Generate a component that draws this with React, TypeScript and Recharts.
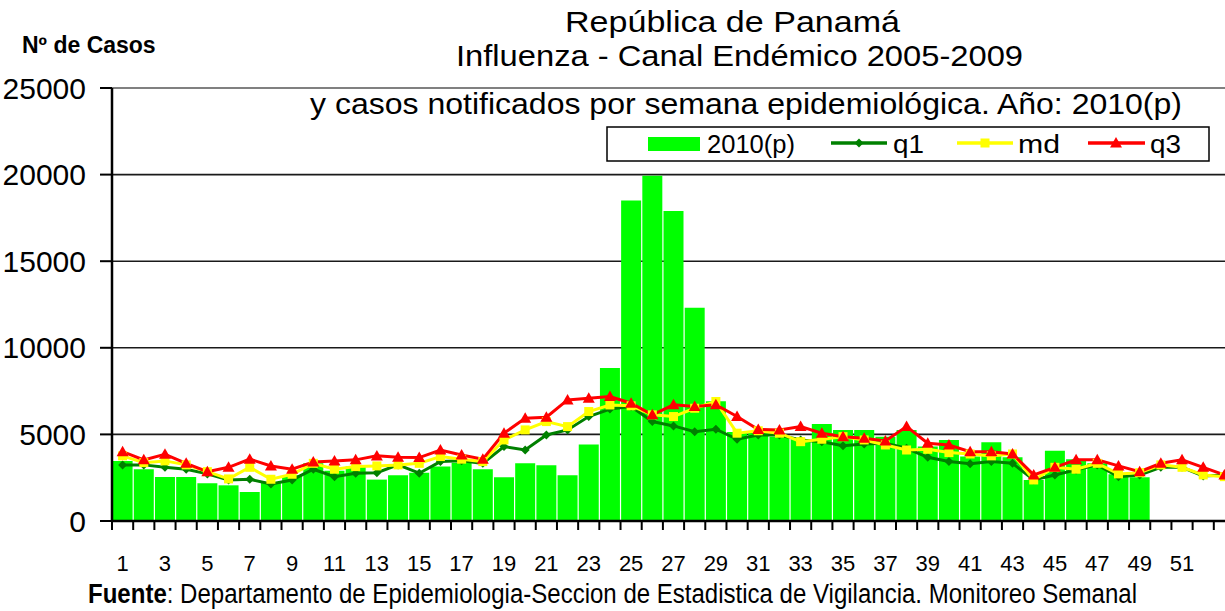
import React from 'react'
import { Bar, CartesianGrid, ComposedChart, Line, ReferenceLine, XAxis, YAxis } from 'recharts'

const WEEKS = [
  1, 2, 3, 4, 5, 6, 7, 8, 9, 10, 11, 12, 13, 14, 15, 16, 17, 18, 19, 20, 21, 22, 23, 24, 25, 26,
  27, 28, 29, 30, 31, 32, 33, 34, 35, 36, 37, 38, 39, 40, 41, 42, 43, 44, 45, 46, 47, 48, 49, 50,
  51, 52, 53,
]

// casos notificados 2010(p), semanas 1-49
const CASES_2010 = [
  3470, 2990, 2540, 2540, 2180, 2060, 1680, 2220, 2640, 3330, 2900, 3140, 2390, 2640, 2790, 3140,
  3370, 2990, 2530, 3330, 3220, 2640, 4410, 8840, 18510, 19940, 17900, 12310, 6920, 5140, 5100,
  4860, 4700, 5600, 5260, 5260, 4870, 5260, 4300, 4680, 3720, 4550, 3680, 2370, 4060, 3570, 3330,
  2700, 2530,
]

// canal endémico 2005-2009
const Q1 = [
  3240, 3240, 3100, 2990, 2720, 2370, 2410, 2140, 2370, 2990, 2560, 2760, 2790, 3240, 2760, 3430,
  3480, 3330, 4300, 4100, 4970, 5260, 6030, 6460, 6610, 5740, 5490, 5160, 5300, 4720, 4970, 4970,
  4680, 4580, 4340, 4450, 4490, 4200, 3680, 3430, 3300, 3430, 3330, 2370, 2660, 2950, 3240, 2560,
  2660, 3100, 3100, 2600, 2660,
]
const MD = [
  3760, 3370, 3470, 3240, 2850, 2430, 3100, 2410, 2700, 3330, 2990, 3140, 3180, 3240, 3330, 3720,
  3570, 3430, 4680, 5260, 5740, 5450, 6320, 6700, 6650, 6130, 6030, 6510, 6900, 5070, 5210, 5070,
  4580, 4720, 4870, 4680, 4390, 4100, 4140, 3950, 3870, 3760, 3870, 2370, 3100, 2990, 3330, 2720,
  2790, 3240, 3100, 2660, 2560,
]
const Q3 = [
  4000, 3530, 3850, 3330, 2850, 3100, 3570, 3180, 2990, 3410, 3470, 3530, 3760, 3680, 3660, 4100,
  3810, 3570, 5070, 5930, 5990, 6990, 7090, 7190, 6800, 6130, 6710, 6610, 6710, 6030, 5280, 5260,
  5450, 5070, 4870, 4780, 4620, 5450, 4490, 4390, 4000, 4000, 3870, 2660, 3100, 3530, 3530, 3180,
  2850, 3330, 3530, 3100, 2660,
]

const Y_TICKS = [0, 5000, 10000, 15000, 20000, 25000]
const LAST_LABELED_WEEK = 51

const COLORS = {
  cases: '#00ff00',
  q1: '#008000',
  md: '#ffff00',
  q3: '#ff0000',
} as const

const FONT = '"Liberation Sans", Arial, sans-serif'

// the original picture is cropped on the right: week 53 sits half outside the frame
const VIEW_W = 1225
const CHART_W = 1235
const CHART_H = 611
const PLOT_LEFT = 112
const PLOT_BOTTOM = 521
const BAND = (CHART_W - PLOT_LEFT) / WEEKS.length

const chartData = WEEKS.map((week, i) => ({
  week,
  cases: CASES_2010[i] ?? null,
  q1: Q1[i],
  md: MD[i],
  q3: Q3[i],
}))

function WeekTick(props: any) {
  const { x, payload } = props
  const left = x - BAND / 2
  const week = payload.value
  return (
    <g>
      <line x1={left} x2={left} y1={PLOT_BOTTOM} y2={PLOT_BOTTOM + 9} stroke="#000" strokeWidth={2} />
      {week % 2 === 1 && week <= LAST_LABELED_WEEK && (
        <text x={x} y={571} textAnchor="middle" fontSize={22} fill="#000" fontFamily={FONT}>
          {week}
        </text>
      )}
    </g>
  )
}

function diamondPath(cx: number, cy: number, r: number) {
  return `M${cx},${cy - r}L${cx + r},${cy}L${cx},${cy + r}L${cx - r},${cy}Z`
}

function trianglePath(cx: number, cy: number, r: number) {
  return `M${cx},${cy - r}L${cx + r},${cy + r * 0.75}L${cx - r},${cy + r * 0.75}Z`
}

function DiamondDot(props: any) {
  const { cx, cy } = props
  if (cx == null || cy == null) return null
  return <path d={diamondPath(cx, cy, 4.5)} fill={COLORS.q1} />
}

function SquareDot(props: any) {
  const { cx, cy } = props
  if (cx == null || cy == null) return null
  return <rect x={cx - 4.5} y={cy - 4.5} width={9} height={9} fill={COLORS.md} />
}

function TriangleDot(props: any) {
  const { cx, cy } = props
  if (cx == null || cy == null) return null
  return <path d={trianglePath(cx, cy, 6)} fill={COLORS.q3} />
}

// source line is set in a narrow face: squeeze it horizontally
const FOOTER_SCALE = 0.858

function Overlay() {
  return (
    <svg
      width={VIEW_W}
      height={CHART_H}
      style={{ position: 'absolute', left: 0, top: 0, pointerEvents: 'none' }}
      fontFamily={FONT}
    >
      <text x={22} y={53} fontSize={23} fontWeight="bold" fill="#000">
        Nº de Casos
      </text>
      <text x={565} y={32} fontSize={30} fill="#000" textLength={335} lengthAdjust="spacingAndGlyphs">
        República de Panamá
      </text>
      <text x={456} y={66} fontSize={30} fill="#000" textLength={567} lengthAdjust="spacingAndGlyphs">
        Influenza - Canal Endémico  2005-2009
      </text>
      <text x={310} y={114} fontSize={30} fill="#000" textLength={872} lengthAdjust="spacingAndGlyphs">
        y casos notificados por semana epidemiológica.  Año: 2010(p)
      </text>

      {/* leyenda */}
      <rect x={607} y={127} width={602} height={34} fill="#fff" stroke="#000" strokeWidth={1.5} />
      <rect x={648} y={137} width={52} height={14} fill={COLORS.cases} />
      <text x={707} y={153} fontSize={25} fill="#000" textLength={88} lengthAdjust="spacingAndGlyphs">
        2010(p)
      </text>
      <line x1={831} x2={887} y1={143} y2={143} stroke={COLORS.q1} strokeWidth={3.5} />
      <path d={diamondPath(859, 143, 4.5)} fill={COLORS.q1} />
      <text x={893} y={153} fontSize={25} fill="#000" textLength={31} lengthAdjust="spacingAndGlyphs">
        q1
      </text>
      <line x1={957} x2={1013} y1={143} y2={143} stroke={COLORS.md} strokeWidth={3.5} />
      <rect x={980.5} y={138.5} width={9} height={9} fill={COLORS.md} />
      <text x={1018} y={153} fontSize={25} fill="#000" textLength={42} lengthAdjust="spacingAndGlyphs">
        md
      </text>
      <line x1={1088} x2={1145} y1={143} y2={143} stroke={COLORS.q3} strokeWidth={3.5} />
      <path d={trianglePath(1116, 143, 6)} fill={COLORS.q3} />
      <text x={1150} y={153} fontSize={25} fill="#000" textLength={31} lengthAdjust="spacingAndGlyphs">
        q3
      </text>

      <g transform={`translate(88,603) scale(${FOOTER_SCALE},1)`}>
        <text
          x={0}
          y={0}
          fontSize={28}
          fill="#000"
          textLength={1049 / FOOTER_SCALE}
          lengthAdjust="spacingAndGlyphs"
        >
          <tspan fontWeight="bold">Fuente</tspan>: Departamento de Epidemiologia-Seccion de Estadistica
          de Vigilancia. Monitoreo Semanal
        </text>
      </g>
    </svg>
  )
}

export default function App() {
  return (
    <div
      style={{
        position: 'absolute',
        left: 0,
        top: 0,
        width: VIEW_W,
        height: CHART_H,
        overflow: 'hidden',
        background: '#fff',
        fontFamily: FONT,
      }}
    >
      <ComposedChart
        width={CHART_W}
        height={CHART_H}
        data={chartData}
        margin={{ top: 88, right: 0, bottom: 50, left: 0 }}
        barCategoryGap={0.6}
      >
        <CartesianGrid
          vertical={false}
          stroke="#1a1a1a"
          strokeWidth={1.6}
          horizontalValues={[5000, 10000, 15000, 20000]}
        />
        <ReferenceLine y={25000} stroke="#808080" strokeWidth={2} />
        <XAxis
          dataKey="week"
          interval={0}
          tickLine={false}
          tick={<WeekTick />}
          axisLine={{ stroke: '#000', strokeWidth: 2.5 }}
          height={40}
        />
        <YAxis
          domain={[0, 25000]}
          ticks={Y_TICKS}
          interval={0}
          width={PLOT_LEFT}
          tickSize={12}
          tickMargin={14}
          tick={{ fill: '#000', fontSize: 30, fontFamily: FONT }}
          tickLine={{ stroke: '#000', strokeWidth: 2 }}
          axisLine={{ stroke: '#000', strokeWidth: 2.5 }}
        />
        <Bar dataKey="cases" fill={COLORS.cases} isAnimationActive={false} />
        <Line
          dataKey="q1"
          stroke={COLORS.q1}
          strokeWidth={3}
          dot={<DiamondDot />}
          activeDot={false}
          isAnimationActive={false}
        />
        <Line
          dataKey="md"
          stroke={COLORS.md}
          strokeWidth={3}
          dot={<SquareDot />}
          activeDot={false}
          isAnimationActive={false}
        />
        <Line
          dataKey="q3"
          stroke={COLORS.q3}
          strokeWidth={3}
          dot={<TriangleDot />}
          activeDot={false}
          isAnimationActive={false}
        />
      </ComposedChart>
      <Overlay />
    </div>
  )
}
